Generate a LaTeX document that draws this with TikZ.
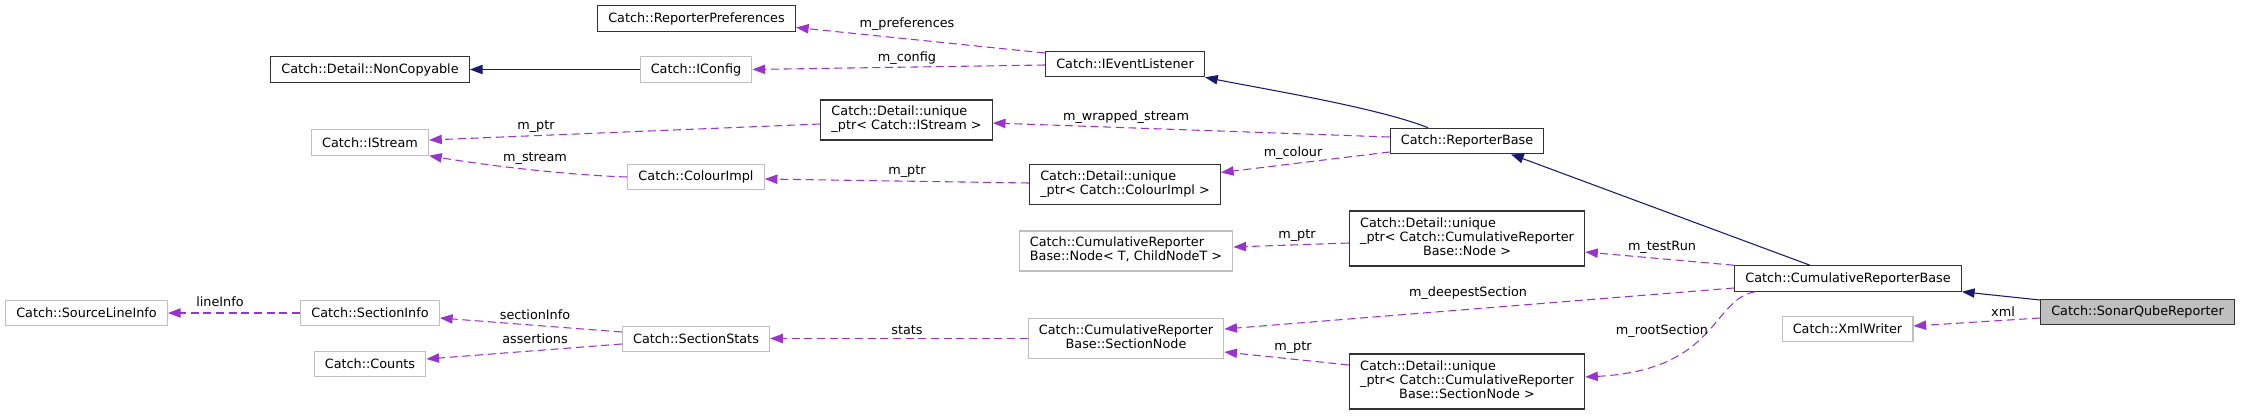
\documentclass[tikz,border=0pt]{standalone}
\usepackage{fontspec}
\setmainfont{DejaVu Sans}
\usepackage{xcolor}
\usepackage{tikz}
\usetikzlibrary{arrows.meta,calc}
\definecolor{docborder}{HTML}{333333}
\definecolor{undocgray}{HTML}{BFBFBF}
\definecolor{selffill}{HTML}{BFBFBF}
\definecolor{midnight}{HTML}{191970}
\definecolor{orchidline}{HTML}{9A32CD}
\newcommand{\tworow}[2]{\begin{tabular}{@{}l@{}}#1\\\multicolumn{1}{@{}c@{}}{#2}\end{tabular}}
\newcommand{\threerow}[3]{\begin{tabular}{@{}l@{}}#1\\#2\\\multicolumn{1}{@{}c@{}}{#3}\end{tabular}}

\begin{document}
\begin{tikzpicture}[
    x=0.75pt, y=-0.75pt,
    cls_box/.style={rectangle, draw=docborder, fill=white, line width=0.9pt, font=\fontsize{9.6pt}{10.5pt}\selectfont, inner xsep=8pt, inner ysep=1pt, minimum height=19pt},
    ext_box/.style={cls_box, draw=undocgray},
    self_box/.style={cls_box, fill=selffill},
    two_line/.style={minimum height=30pt},
    three_line/.style={minimum height=41.25pt},
    base_arrow/.style={-{Triangle[length=9.5pt,width=7pt]}, midnight, line width=0.8pt},
    member_arrow/.style={-{Triangle[length=9.5pt,width=7pt]}, orchidline, line width=0.8pt, dash pattern=on 6pt off 3.5pt},
    member_lbl/.style={font=\fontsize{9.6pt}{10.5pt}\selectfont, inner sep=0pt}
]
\useasboundingbox (0,0) rectangle (2241,415);

% column 0
\node[ext_box] (srcline) at (86.5,313) {Catch::SourceLineInfo};

% column 1
\node[cls_box] (noncopy) at (370,69.5) {Catch::Detail::NonCopyable};
\node[ext_box] (istream) at (370,142.5) {Catch::IStream};
\node[ext_box] (secinfo) at (370,313) {Catch::SectionInfo};
\node[ext_box] (counts) at (370,364) {Catch::Counts};

% column 2
\node[cls_box] (prefs) at (696.5,18.5) {Catch::ReporterPreferences};
\node[ext_box] (iconfig) at (696,69.5) {Catch::IConfig};
\node[ext_box] (colimpl) at (696,177) {Catch::ColourImpl};
\node[ext_box] (secstats) at (696,339) {Catch::SectionStats};
\node[cls_box, two_line] (uptr_stream) at (906.5,120) {\tworow{Catch::Detail::unique}{\_ptr< Catch::IStream >}};

% column 3
\node[cls_box] (listener) at (1125,64) {Catch::IEventListener};
\node[cls_box, two_line] (uptr_colour) at (1125,184.5) {\tworow{Catch::Detail::unique}{\_ptr< Catch::ColourImpl >}};
\node[ext_box, two_line] (cnode) at (1126,251) {\tworow{Catch::CumulativeReporter}{Base::Node< T, ChildNodeT >}};
\node[ext_box, two_line] (secnode) at (1126,338.5) {\tworow{Catch::CumulativeReporter}{Base::SectionNode}};

% column 4
\node[cls_box] (repbase) at (1467,141) {Catch::ReporterBase};
\node[cls_box, three_line] (uptr_node) at (1467,238.5) {\threerow{Catch::Detail::unique}{\_ptr< Catch::CumulativeReporter}{Base::Node >}};
\node[cls_box, three_line] (uptr_secnode) at (1467,381.5) {\threerow{Catch::Detail::unique}{\_ptr< Catch::CumulativeReporter}{Base::SectionNode >}};

% column 5
\node[cls_box] (cumbase) at (1848,278.5) {Catch::CumulativeReporterBase};
\node[ext_box] (xmlw) at (1847.5,329) {Catch::XmlWriter};

% column 6
\node[self_box] (sonar) at (2137.5,312) {Catch::SonarQubeReporter};

% Inheritance
\draw[base_arrow] (iconfig) -- (noncopy);
\draw[base_arrow] ($(repbase.north)+(-39,0)$) .. controls +(-50,-20) and +(60,12) .. (listener.south east);
\draw[base_arrow] ($(cumbase.north)+(-38,0)$) -- ($(repbase.south)+(44,0)$);
\draw[base_arrow] ($(sonar.west)+(0,-12)$) -- (cumbase.south east);

% Members
\draw[member_arrow] ($(listener.west)+(0,-11)$) -- ($(prefs.east)+(0,9)$);
\draw[member_arrow] ($(listener.west)+(0,1)$) -- (iconfig.east);
\draw[member_arrow] ($(repbase.west)+(0,-4)$) -- ($(uptr_stream.east)+(0,3)$);
\draw[member_arrow] ($(repbase.west)+(0,11)$) -- ($(uptr_colour.east)+(0,-12)$);
\draw[member_arrow] ($(uptr_stream.west)+(0,4)$) -- ($(istream.east)+(0,-2.5)$);
\draw[member_arrow] (colimpl.west) .. controls +(-60,-2) and +(60,10) .. (istream.south east);
\draw[member_arrow] ($(uptr_colour.west)+(0,-1.5)$) -- ($(colimpl.east)+(0,2)$);
\draw[member_arrow] ($(uptr_node.west)+(0,4.5)$) -- ($(cnode.east)+(0,-4)$);
\draw[member_arrow] (cumbase.north west) -- ($(uptr_node.east)+(0,13.5)$);
\draw[member_arrow] ($(cumbase.west)+(0,9.5)$) -- ($(secnode.east)+(0,-9.5)$);
\draw[member_arrow] ($(cumbase.south west)+(21,0)$) .. controls +(-44,8) and +(133,-7) .. ($(uptr_secnode.east)+(0,-4.5)$);
\draw[member_arrow] ($(uptr_secnode.west)+(0,-16.5)$) -- ($(secnode.east)+(0,13.5)$);
\draw[member_arrow] (secnode.west) -- ($(secstats.east)+(0,-0.5)$);
\draw[member_arrow] ($(secstats.west)+(0,-7)$) -- ($(secinfo.east)+(0,5)$);
\draw[member_arrow] ($(secstats.west)+(0,5)$) -- ($(counts.east)+(0,-5)$);
\draw[member_arrow] (secinfo) -- (srcline);
\draw[member_arrow] ($(sonar.west)+(0,6)$) -- ($(xmlw.east)+(0,-3)$);

% Member labels
\node[member_lbl] (lb_prefs) at (907,24) {m\_preferences};
\node[member_lbl] (lb_config) at (907,58) {m\_config};
\node[member_lbl] (lb_wrapped) at (1126,117) {m\_wrapped\_stream};
\node[member_lbl] (lb_colour) at (1293,153) {m\_colour};
\node[member_lbl] (lb_ptr_a) at (536,127) {m\_ptr};
\node[member_lbl] (lb_stream) at (535,159) {m\_stream};
\node[member_lbl] (lb_ptr_b) at (907,172) {m\_ptr};
\node[member_lbl] (lb_ptr_c) at (1297,236) {m\_ptr};
\node[member_lbl] (lb_testrun) at (1662,247) {m\_testRun};
\node[member_lbl] (lb_deepest) at (1468,293) {m\_deepestSection};
\node[member_lbl] (lb_root) at (1662,331) {m\_rootSection};
\node[member_lbl] (lb_ptr_d) at (1293,348) {m\_ptr};
\node[member_lbl] (lb_stats) at (907,330) {stats};
\node[member_lbl] (lb_secinfo) at (535,315) {sectionInfo};
\node[member_lbl] (lb_assert) at (535,339) {assertions};
\node[member_lbl] (lb_lineinfo) at (220,302) {lineInfo};
\node[member_lbl] (lb_xml) at (2003,312) {xml};

\end{tikzpicture}
\end{document}
